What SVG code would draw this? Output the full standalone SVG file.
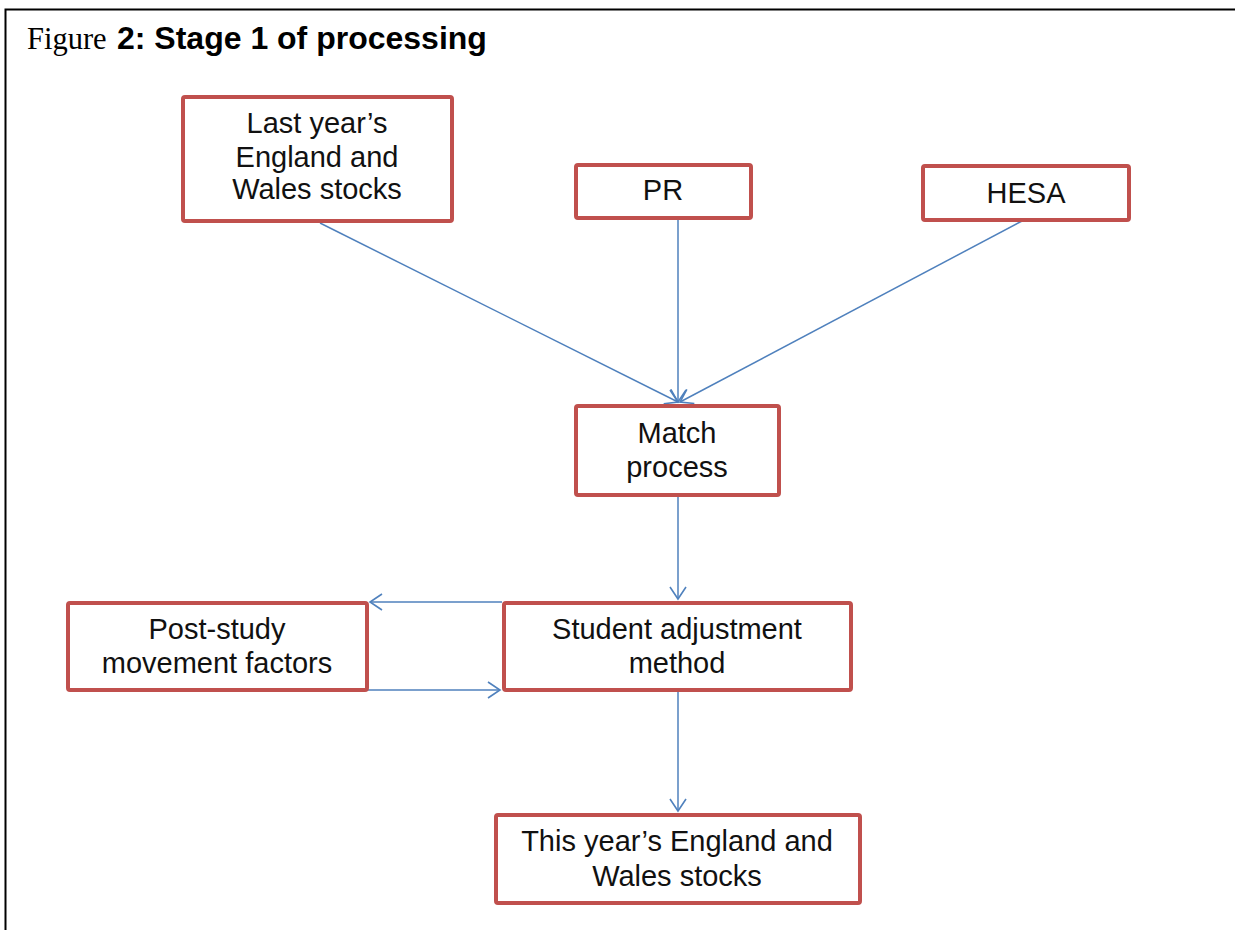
<svg xmlns="http://www.w3.org/2000/svg" width="1235" height="930" viewBox="0 0 1235 930">
<style>
.box{fill:#fff;stroke:#c0504d;stroke-width:4;}
.t{font-family:"Liberation Sans",Arial,sans-serif;font-size:29px;fill:#111;text-anchor:middle;}
.c{fill:none;stroke:#4f81bd;stroke-width:1.5;}
</style>
<defs>
<marker id="ah" markerUnits="userSpaceOnUse" markerWidth="16" markerHeight="20" refX="13" refY="9" orient="auto" viewBox="0 0 16 18">
<path d="M1,1 L13,9 L1,17" fill="none" stroke="#4f81bd" stroke-width="1.6"/>
</marker>
</defs>
<rect width="1235" height="930" fill="#fff"/>
<path d="M5.5,930 V9.5 H1235" fill="none" stroke="#000" stroke-width="2"/>
<text x="27" y="49" font-family="'Liberation Serif','Times New Roman',serif" font-size="30.5">Figure <tspan x="117" font-family="'Liberation Sans',Arial,sans-serif" font-weight="bold" font-size="32">2: Stage 1 of processing</tspan></text>
<g id="connectors">
<line class="c" x1="320" y1="223" x2="678" y2="402" marker-end="url(#ah)"/>
<line class="c" x1="678" y1="220" x2="678" y2="402" marker-end="url(#ah)"/>
<line class="c" x1="1022" y1="221" x2="680" y2="402" marker-end="url(#ah)"/>
<line class="c" x1="678" y1="497" x2="678" y2="599" marker-end="url(#ah)"/>
<line class="c" x1="502" y1="602" x2="370" y2="602" marker-end="url(#ah)"/>
<line class="c" x1="368" y1="690" x2="500" y2="690" marker-end="url(#ah)"/>
<line class="c" x1="678" y1="692" x2="678" y2="811" marker-end="url(#ah)"/>
</g>
<g id="n-last">
<rect class="box" x="183" y="97" width="269" height="124" rx="2"/>
<text class="t" x="317" y="133">Last year’s</text>
<text class="t" x="317" y="167">England and</text>
<text class="t" x="317" y="199">Wales stocks</text>
</g>
<g id="n-pr">
<rect class="box" x="576" y="165" width="175" height="53" rx="2"/>
<text class="t" x="663" y="200">PR</text>
</g>
<g id="n-hesa">
<rect class="box" x="923" y="166" width="206" height="54" rx="2"/>
<text class="t" x="1026" y="203">HESA</text>
</g>
<g id="n-match">
<rect class="box" x="576" y="406" width="203" height="89" rx="2"/>
<text class="t" x="677" y="443">Match</text>
<text class="t" x="677" y="477">process</text>
</g>
<g id="n-post">
<rect class="box" x="68" y="603" width="299" height="87" rx="2"/>
<text class="t" x="217" y="639">Post-study</text>
<text class="t" x="217" y="673">movement factors</text>
</g>
<g id="n-student">
<rect class="box" x="504" y="603" width="347" height="87" rx="2"/>
<text class="t" x="677" y="639">Student adjustment</text>
<text class="t" x="677" y="673">method</text>
</g>
<g id="n-this">
<rect class="box" x="496" y="815" width="364" height="88" rx="2"/>
<text class="t" x="677" y="851">This year’s England and</text>
<text class="t" x="677" y="886">Wales stocks</text>
</g>
</svg>
